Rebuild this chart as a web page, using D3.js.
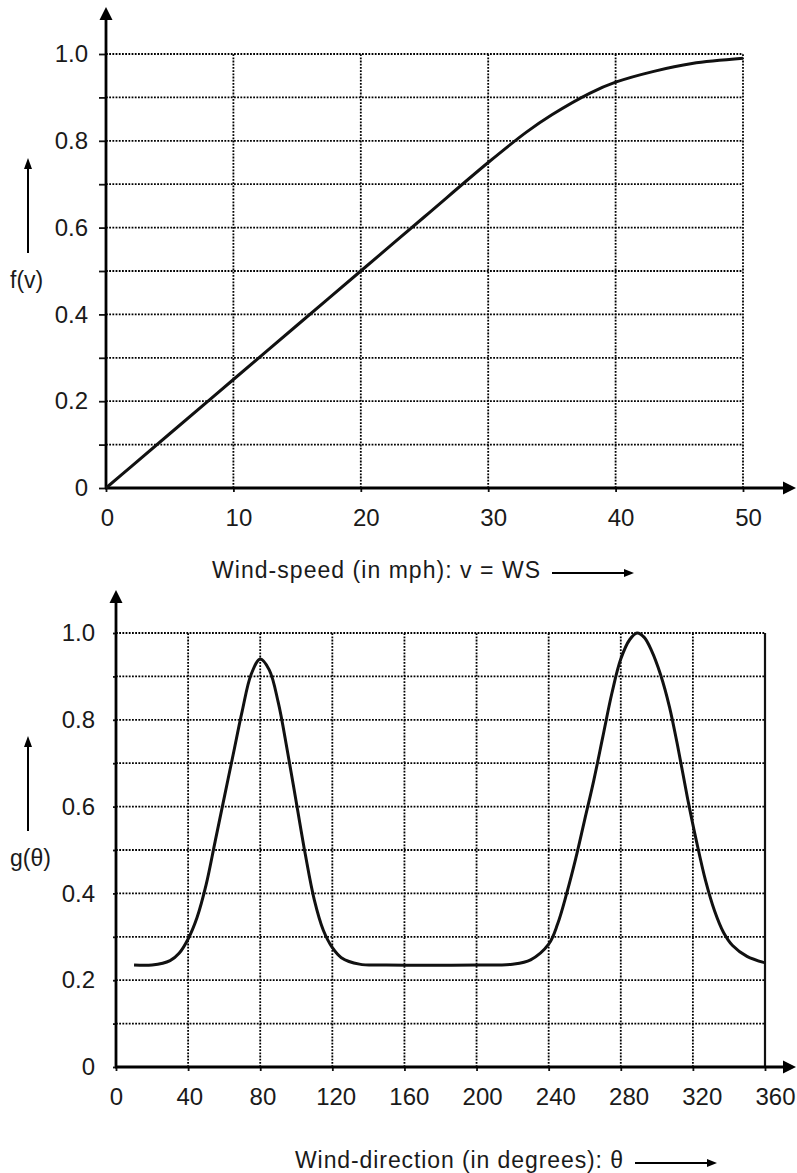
<!DOCTYPE html>
<html>
<head>
<meta charset="utf-8">
<script src="https://cdn.jsdelivr.net/npm/d3@7"></script>
<style>
  body { margin: 0; background: #fff; }
  svg { display: block; font-family: 'Liberation Sans', Arial, sans-serif; }
  .tick text { font-size: 24px; fill: #1a1a1a; }
  .grid { stroke: #000; stroke-width: 1.8; stroke-dasharray: 1.8 1.4; }
</style>
</head>
<body>
<script>
// Data: wind-speed distribution f(v)
const SPEED_TICKS = [0, 10, 20, 30, 40, 50]
const F_TICKS = [0, 0.2, 0.4, 0.6, 0.8, 1.0]
const F_LABELS = ['0', '0.2', '0.4', '0.6', '0.8', '1.0']
const SPEED = [0, 2, 5, 10, 15, 20, 25, 30, 33, 35, 38, 40, 43, 46, 50]
const F_VALUE = [0, 0.05, 0.125, 0.25, 0.375, 0.5, 0.625, 0.75, 0.82, 0.86, 0.91, 0.935, 0.96, 0.978, 0.99]

// Data: wind-direction distribution g(theta)
const DIR_TICKS = [0, 40, 80, 120, 160, 200, 240, 280, 320, 360]
const G_TICKS = [0, 0.2, 0.4, 0.6, 0.8, 1.0]
const G_LABELS = ['0', '0.2', '0.4', '0.6', '0.8', '1.0']
const DIRECTION = [10, 20, 30, 35, 40, 45, 50, 55, 60, 65, 70, 75, 80, 85, 90, 95, 100, 105, 110, 115, 120, 125, 135, 150,
  200, 220, 230, 240, 245, 250, 255, 260, 265, 270, 275, 280, 285, 289, 293, 297, 302, 307, 312, 317, 322, 327, 332, 337, 342, 350, 360]
const G_VALUE = [0.235, 0.235, 0.245, 0.262, 0.295, 0.345, 0.42, 0.52, 0.62, 0.72, 0.82, 0.905, 0.94, 0.915, 0.84, 0.73, 0.61, 0.49, 0.385, 0.315, 0.275, 0.252, 0.237, 0.235,
  0.235, 0.237, 0.247, 0.283, 0.33, 0.40, 0.48, 0.57, 0.66, 0.76, 0.86, 0.94, 0.985, 1.0, 0.99, 0.96, 0.905, 0.83, 0.73, 0.62, 0.52, 0.43, 0.36, 0.31, 0.28, 0.255, 0.24]

// Grid steps (every 0.1)
const GRID_Y = [0.1, 0.2, 0.3, 0.4, 0.5, 0.6, 0.7, 0.8, 0.9, 1.0]

const width = 797
const height = 1173

const svg = d3.select('body').append('svg')
  .attr('width', width)
  .attr('height', height)
  .attr('viewBox', [0, 0, width, height])

function arrowHead(g, tipX, tipY, dir, len, half) {
  let pts
  if (dir === 'up') pts = [[tipX, tipY], [tipX - half, tipY + len], [tipX + half, tipY + len]]
  else pts = [[tipX, tipY], [tipX - len, tipY - half], [tipX - len, tipY + half]]
  g.append('path')
    .attr('d', d3.line()(pts) + 'Z')
    .attr('fill', '#000')
}

function drawChart(opt) {
  const g = svg.append('g')
  const x = opt.x
  const y = opt.y
  const [xa, xb] = x.range()
  const [ya, yb] = y.range()

  // Horizontal grid
  g.selectAll('line.gy')
    .data(GRID_Y)
    .enter()
    .append('line')
    .attr('class', 'grid')
    .attr('x1', xa)
    .attr('x2', xb)
    .attr('y1', d => y(d))
    .attr('y2', d => y(d))

  // Vertical grid
  g.selectAll('line.gx')
    .data(opt.xTicks.filter(d => d > 0))
    .enter()
    .append('line')
    .attr('class', (d, i, n) => (opt.solidLast && i === n.length - 1) ? 'solid' : 'grid')
    .attr('x1', d => x(d))
    .attr('x2', d => x(d))
    .attr('y1', ya)
    .attr('y2', yb)
    .attr('stroke', '#111')
    .attr('stroke-width', (d, i, n) => (opt.solidLast && i === n.length - 1) ? 2.2 : null)

  // Y axis ticks and labels
  const yAxis = g.append('g')
    .attr('transform', `translate(${xa},0)`)
    .call(d3.axisLeft(y).tickValues([0].concat(GRID_Y)).tickSize(opt.yTick).tickPadding(opt.yPad)
      .tickFormat(d => {
        const i = opt.yTicks.findIndex(t => Math.abs(t - d) < 1e-9)
        return i >= 0 ? opt.yLabels[i] : ''
      }))
  yAxis.select('.domain').remove()
  yAxis.selectAll('.tick line').attr('stroke', '#111').attr('stroke-width', 1.8)

  // X axis ticks and labels
  const xAxis = g.append('g')
    .attr('transform', `translate(0,${ya})`)
    .call(d3.axisBottom(x).tickValues(opt.xTicks).tickSize(4).tickPadding(17).tickFormat(d3.format('d')))
  xAxis.select('.domain').remove()
  xAxis.selectAll('.tick line').attr('stroke', '#111').attr('stroke-width', 1.8)
  xAxis.selectAll('.tick text').attr('dx', d => opt.labelShift(d))

  // Axis lines with arrows
  g.append('line')
    .attr('x1', xa).attr('x2', xa)
    .attr('y1', ya).attr('y2', opt.yTip + 10)
    .attr('stroke', '#000').attr('stroke-width', 2.8)
  arrowHead(g, xa, opt.yTip, 'up', 13, 6.5)
  g.append('line')
    .attr('x1', xa - 1).attr('x2', width - 12)
    .attr('y1', ya).attr('y2', ya)
    .attr('stroke', '#000').attr('stroke-width', 2.8)
  arrowHead(g, width - 1, ya, 'right', 13, 6.5)

  // Curve
  g.append('path')
    .datum(opt.xs.map((v, i) => [v, opt.ys[i]]))
    .attr('fill', 'none')
    .attr('stroke', '#111')
    .attr('stroke-width', 3)
    .attr('d', d3.line().x(d => x(d[0])).y(d => y(d[1])).curve(d3.curveCatmullRom.alpha(0.5)))

  // Y label with up arrow
  g.append('line')
    .attr('x1', 28).attr('x2', 28)
    .attr('y1', opt.yLabelY - 27).attr('y2', opt.yLabelY - 112)
    .attr('stroke', '#000').attr('stroke-width', 2)
  arrowHead(g, 28, opt.yLabelY - 122, 'up', 11, 4)
  g.append('text')
    .attr('x', 10)
    .attr('y', opt.yLabelY + 8)
    .style('font-size', '23px')
    .attr('fill', '#1a1a1a')
    .text(opt.yTitle)

  // X title with right arrow
  g.append('text')
    .attr('x', opt.titleX)
    .attr('y', opt.titleY)
    .attr('textLength', opt.titleLen)
    .attr('lengthAdjust', 'spacing')
    .style('font-size', '23px')
    .attr('fill', '#1a1a1a')
    .text(opt.xTitle)
  const ax = opt.titleX + opt.titleLen + 12
  g.append('line')
    .attr('x1', ax).attr('x2', ax + 78)
    .attr('y1', opt.titleY - 5).attr('y2', opt.titleY - 5)
    .attr('stroke', '#000').attr('stroke-width', 2)
  arrowHead(g, ax + 82, opt.titleY - 5, 'right', 10, 4)
}

// Top chart: f(v)
drawChart({
  x: d3.scaleLinear().domain([0, 50]).range([106, 743]),
  y: d3.scaleLinear().domain([0, 1]).range([488, 54]),
  xTicks: SPEED_TICKS,
  yTicks: F_TICKS,
  yLabels: F_LABELS,
  yTick: 7,
  yPad: 11,
  yTip: 7,
  solidLast: false,
  labelShift: d => d === 0 ? 1 : 5,
  xs: SPEED,
  ys: F_VALUE,
  yTitle: 'f(v)',
  yLabelY: 280,
  xTitle: 'Wind-speed (in mph): v = WS',
  titleX: 212,
  titleY: 578,
  titleLen: 328
})

// Bottom chart: g(theta)
drawChart({
  x: d3.scaleLinear().domain([0, 360]).range([116, 765]),
  y: d3.scaleLinear().domain([0, 1]).range([1067, 633]),
  xTicks: DIR_TICKS,
  yTicks: G_TICKS,
  yLabels: G_LABELS,
  yTick: 3,
  yPad: 18,
  yTip: 590,
  solidLast: true,
  labelShift: d => d / 36,
  xs: DIRECTION,
  ys: G_VALUE,
  yTitle: 'g(θ)',
  yLabelY: 858,
  xTitle: 'Wind-direction (in degrees): θ',
  titleX: 295,
  titleY: 1168,
  titleLen: 328
})
</script>
</body>
</html>
